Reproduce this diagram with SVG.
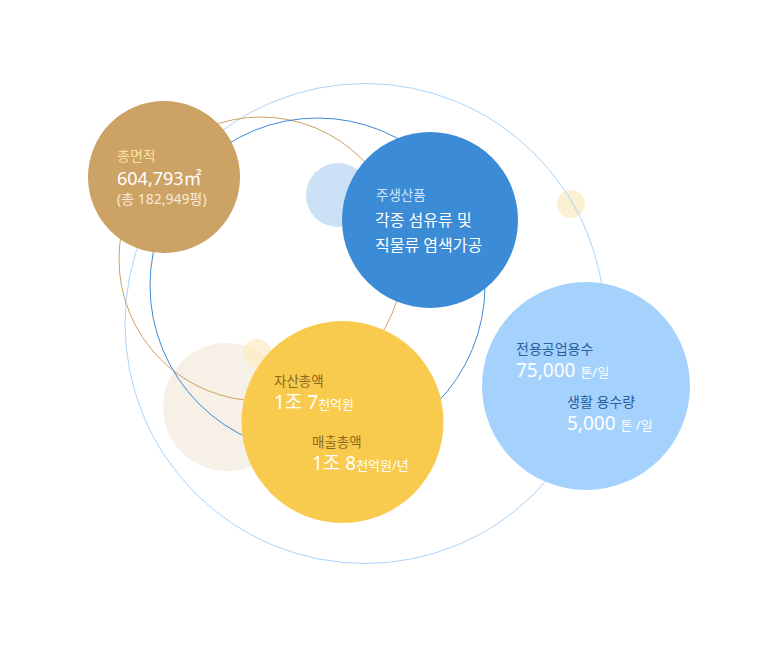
<svg xmlns="http://www.w3.org/2000/svg" width="780" height="650" viewBox="0 0 780 650">
<style>
text{font-family:"Noto Sans","Noto Sans CJK KR",sans-serif;}
.lbl{font-size:13.5px;}
.big{font-size:19px;fill:#ffffff;}
.unit{font-size:13px;fill:#ffffff;}
.ring{fill:none;stroke-width:1;}
</style>
<rect width="780" height="650" fill="#ffffff"/>
<g id="decor">
<circle cx="227" cy="407" r="64" fill="#f6f0e6"/>
<circle cx="257" cy="353" r="14" fill="#fbeec7" opacity="0.8"/>
<circle cx="338" cy="195" r="32" fill="#cce1f5"/>
<circle cx="571" cy="204" r="14" fill="#fcf0d2"/>
</g>
<g id="rings">
<circle class="ring" cx="365" cy="323.5" r="240" stroke="#a9d4f9"/>
<circle class="ring" cx="261" cy="259" r="142" stroke="#cda265"/>
<circle class="ring" cx="317.5" cy="285.5" r="167.5" stroke="#3b8ad5"/>
</g>
<g id="area">
<circle cx="164" cy="177" r="76" fill="#cda265"/>
<text x="117" y="161" style="font-size:14px" fill="#f9e2a0">총면적</text>
<text x="117" y="185" style="font-size:18px" fill="#ffffff">604,793㎡</text>
<text x="117" y="204" style="font-size:14px" fill="#f6ead6">(총 182,949평)</text>
</g>
<g id="product">
<circle cx="430" cy="220" r="88" fill="#3b8bd6"/>
<text x="376" y="200" class="lbl" fill="#cfe3f8">주생산품</text>
<text x="375" y="226" style="font-size:16px" fill="#ffffff">각종 섬유류 및</text>
<text x="375" y="251" style="font-size:16px" fill="#ffffff">직물류 염색가공</text>
</g>
<g id="sales">
<circle cx="342.5" cy="422" r="101" fill="#f8ca4e"/>
<text x="274" y="386" class="lbl" fill="#8a6a1e">자산총액</text>
<text x="274" y="409" class="big">1조 7<tspan class="unit">천억원</tspan></text>
<text x="312" y="447" class="lbl" fill="#8a6a1e">매출총액</text>
<text x="312" y="470" class="big">1조 8<tspan class="unit">천억원/년</tspan></text>
</g>
<g id="water">
<circle cx="586" cy="386" r="104" fill="#a4d2fd"/>
<text x="516" y="354" style="font-size:14px" fill="#2b5e9e">전용공업용수</text>
<text x="516" y="377" class="big">75,000 <tspan class="unit">톤/일</tspan></text>
<text x="567" y="407" style="font-size:14px" fill="#2b5e9e">생활 용수량</text>
<text x="567" y="430" class="big">5,000 <tspan class="unit">톤 /일</tspan></text>
</g>
</svg>
